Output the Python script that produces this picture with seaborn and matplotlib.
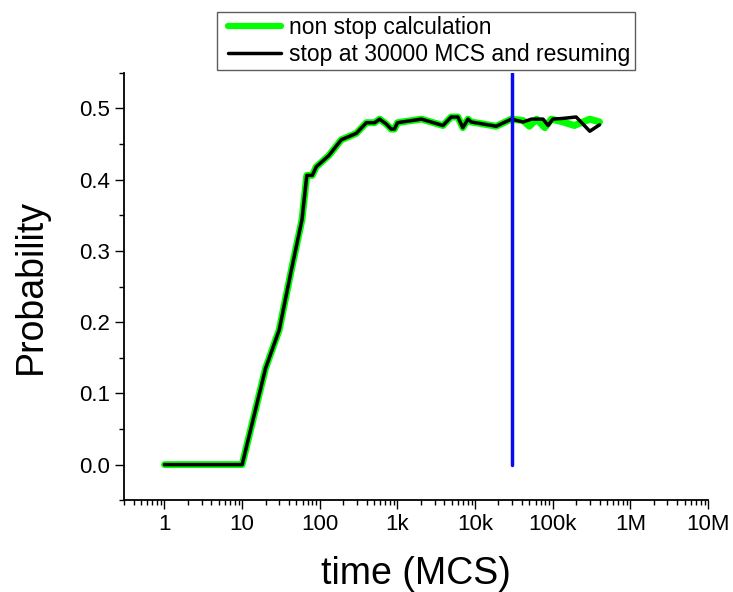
import numpy as np
import pandas as pd
import matplotlib
matplotlib.use("Agg")
import matplotlib.pyplot as plt
import seaborn as sns
from matplotlib.legend_handler import HandlerLine2D
from matplotlib.lines import Line2D
from matplotlib.ticker import LogLocator, FixedLocator, MultipleLocator, FuncFormatter

# ---- data ----
# shared part (both runs identical up to the stop at 30000 MCS)
t_shared = [1, 2, 5, 10, 20, 30, 43, 59, 68, 80, 90, 131, 189, 295, 398, 508, 590,
            719, 833, 915, 1000, 2040, 3850, 4920, 6000, 6940, 8100, 8900, 18700, 29300]
p_shared = [0.0, 0.0, 0.0, 0.0, 0.135, 0.189, 0.273, 0.344, 0.406, 0.406, 0.418, 0.434,
            0.456, 0.465, 0.480, 0.480, 0.485, 0.478, 0.471, 0.471, 0.480, 0.485, 0.476,
            0.488, 0.488, 0.473, 0.485, 0.481, 0.475, 0.485]

# after 30000 MCS
t_nonstop_tail = [41500, 50000, 62000, 79000, 96000, 135000, 190000, 300000, 400000]
p_nonstop_tail = [0.483, 0.475, 0.485, 0.473, 0.485, 0.481, 0.476, 0.485, 0.481]

t_resume_tail = [41500, 53300, 75000, 87000, 100000, 135000, 200000, 300000, 400000]
p_resume_tail = [0.481, 0.485, 0.485, 0.476, 0.485, 0.486, 0.488, 0.468, 0.477]

series_names = ["non stop calculation", "stop at 30000 MCS and resuming"]
stop_time = 30000

x_ticks = [1, 10, 100, 1e3, 1e4, 1e5, 1e6, 1e7]
x_tick_labels = ["1", "10", "100", "1k", "10k", "100k", "1M", "10M"]
y_ticks = [0.0, 0.1, 0.2, 0.3, 0.4, 0.5]

df = pd.concat([
    pd.DataFrame({"time": t_shared + t_nonstop_tail,
                  "prob": p_shared + p_nonstop_tail,
                  "run": series_names[0]}),
    pd.DataFrame({"time": t_shared + t_resume_tail,
                  "prob": p_shared + p_resume_tail,
                  "run": series_names[1]}),
])

sns.set_style("ticks")
plt.rcParams['font.family'] = ['Liberation Sans', 'DejaVu Sans']
plt.rcParams['text.color'] = 'black'
plt.rcParams['axes.labelcolor'] = 'black'
plt.rcParams['xtick.color'] = 'black'
plt.rcParams['ytick.color'] = 'black'

fig = plt.figure(figsize=(7.33, 5.92), dpi=100)
ax = fig.add_axes([0.169, 0.155, 0.797, 0.722])

palette = {series_names[0]: "#00ff00", series_names[1]: "#000000"}
widths = {series_names[0]: 5, series_names[1]: 2.5}
for name in series_names:
    sns.lineplot(data=df[df["run"] == name], x="time", y="prob", color=palette[name],
                 lw=widths[name], ax=ax, estimator=None, sort=False)

ax.plot([stop_time, stop_time], [0, 0.55], color="#0a0af0", lw=2.5, zorder=5)

ax.set_xscale("log")
ax.set_xlim(0.3, 1e7)
ax.set_ylim(-0.05, 0.55)

ax.xaxis.set_major_locator(FixedLocator(x_ticks))
ax.set_xticklabels(x_tick_labels)
ax.xaxis.set_minor_locator(LogLocator(base=10, subs=np.arange(2, 10), numticks=20))
ax.yaxis.set_major_locator(FixedLocator(y_ticks))
ax.yaxis.set_minor_locator(MultipleLocator(0.05))
ax.yaxis.set_major_formatter(FuncFormatter(lambda v, p: f"{v:.1f}"))

ax.tick_params(axis="both", which="major", labelsize=16, length=6.5, width=1.0, direction="out")
ax.tick_params(axis="both", which="minor", length=3.5, width=1.0, direction="out")

for side in ["top", "right"]:
    ax.spines[side].set_visible(False)
for side in ["left", "bottom"]:
    ax.spines[side].set_linewidth(1.3)
    ax.spines[side].set_color("black")

ax.set_xlabel("time (MCS)", fontsize=27, labelpad=15)
ax.set_ylabel("Probability", fontsize=27, labelpad=22)

handles = [Line2D([], [], color=palette[n], lw=(4.5 if i == 0 else 2.5))
           for i, n in enumerate(series_names)]
hmap = {h: HandlerLine2D(xpad=0.32) for h in handles}
leg = ax.legend(handles, series_names, handler_map=hmap,
                loc="upper left", bbox_to_anchor=(0.296, 0.980), bbox_transform=fig.transFigure,
                fontsize=16.5, frameon=True, fancybox=False, edgecolor="#333333",
                handlelength=2.63, handletextpad=0.35, borderpad=0.18, labelspacing=0.18,
                borderaxespad=0)
leg.get_frame().set_linewidth(1.0)

fig.savefig("out.png", dpi=100)
